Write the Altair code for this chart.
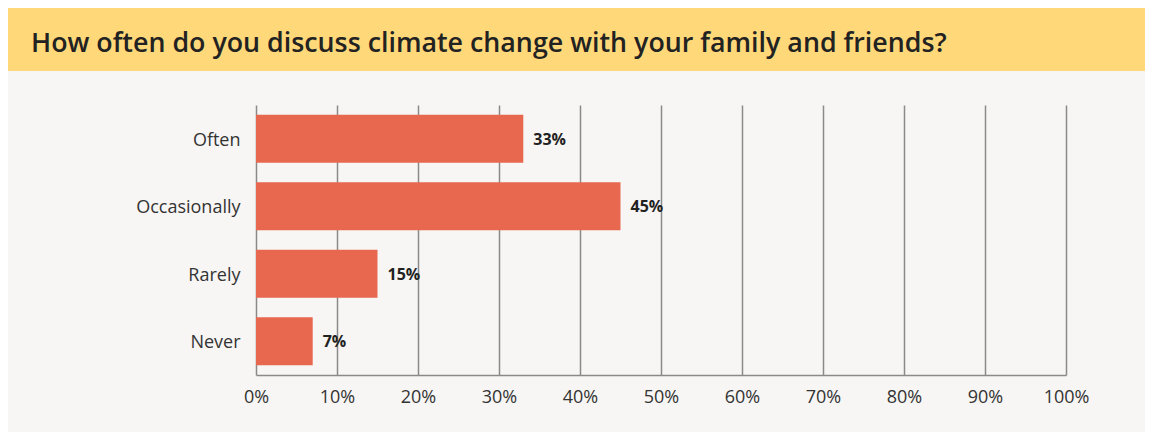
import altair as alt
import pandas as pd

categories = ["Often", "Occasionally", "Rarely", "Never"]
values = [33, 45, 15, 7]
labels = ["33%", "45%", "15%", "7%"]
tick_values = [0, 10, 20, 30, 40, 50, 60, 70, 80, 90, 100]
title_text = "How often do you discuss climate change with your family and friends?"

df = pd.DataFrame({"cat": categories, "val": values, "lab": labels})
tdf = pd.DataFrame({"t": [title_text]})

FONT = "Open Sans"

x_enc = alt.X(
    "val:Q",
    scale=alt.Scale(domain=[0, 100], nice=False),
    axis=alt.Axis(
        values=tick_values,
        labelExpr="datum.value + '%'",
        title=None,
        grid=True,
        gridColor="#8a8a8a",
        gridWidth=1.5,
        domainColor="#8a8a8a",
        domainWidth=1.5,
        ticks=False,
        labelFontSize=18,
        labelColor="#333333",
        labelFont=FONT,
        labelPadding=13,
        labelFlush=False,
        labelOverlap=False,
    ),
)
y_enc = alt.Y(
    "cat:N",
    sort=categories,
    scale=alt.Scale(paddingInner=0.29, paddingOuter=0.145),
    axis=alt.Axis(
        title=None,
        domain=False,
        ticks=False,
        labelFontSize=18,
        labelColor="#333333",
        labelFont=FONT,
        labelPadding=16,
        labelOffset=2,
    ),
)

bars = alt.Chart(df).mark_bar(color="#e8684f").encode(x=x_enc, y=y_enc)

text = alt.Chart(df).mark_text(
    align="left", baseline="middle", dx=10, dy=1, fontSize=16, fontWeight="bold",
    font=FONT, color="#222222"
).encode(x="val:Q", y=alt.Y("cat:N", sort=categories), text="lab:N")

band = alt.Chart(tdf).mark_rect(color="#fed879").encode(
    x=alt.value(-248), x2=alt.value(889), y=alt.value(-98), y2=alt.value(-34)
)

title = alt.Chart(tdf).mark_text(
    align="left", baseline="alphabetic", fontSize=26.8, fontWeight=600,
    font=FONT, color="#222222"
).encode(x=alt.value(-225), y=alt.value(-53), text="t:N")

chart = alt.layer(band, bars, text, title).properties(
    width=810,
    height=270,
    autosize=alt.AutoSizeParams(type="none"),
    padding={"left": 248, "top": 97, "right": 79, "bottom": 57},
    background="#f7f6f4",
).configure_view(stroke=None)

chart.save("out.html", embed_options={"renderer": "svg", "actions": False})
